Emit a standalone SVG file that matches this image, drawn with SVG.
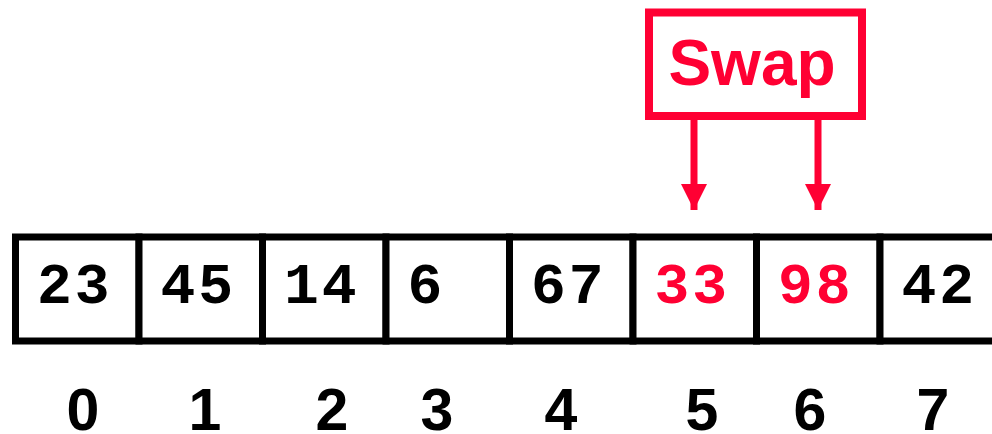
<svg xmlns="http://www.w3.org/2000/svg" width="992" height="434" viewBox="0 0 992 434">
<style>
.cell{fill:#fff;stroke:#000;stroke-width:7}
.val{font-family:"Liberation Mono","Courier New",monospace;font-weight:bold;font-size:58px;letter-spacing:3px;fill:#000}
.red{fill:#ff0033}
.idx{font-family:"Liberation Sans",Arial,sans-serif;font-weight:bold;font-size:59px;fill:#000;text-anchor:middle}
.swapbox{fill:#fff;stroke:#ff0033;stroke-width:8}
.swaptxt{font-family:"Liberation Sans",Arial,sans-serif;font-weight:bold;font-size:64px;fill:#ff0033;text-anchor:middle}
.conn{stroke:#ff0033;stroke-width:7;fill:none}
</style>
<defs>
<marker id="ah" markerUnits="userSpaceOnUse" markerWidth="26" markerHeight="26" refX="24" refY="12" orient="auto" viewBox="0 0 24 24">
<path d="M0,0 L24,12 L0,24 Z" fill="#ff0033"/>
</marker>
</defs>
<g id="array">
<g id="cell0"><rect class="cell" x="15.5" y="237" width="123.5" height="104"/><text class="val" x="37" y="303">23</text></g>
<g id="cell1"><rect class="cell" x="139" y="237" width="123.5" height="104"/><text class="val" x="160.5" y="303">45</text></g>
<g id="cell2"><rect class="cell" x="262.5" y="237" width="123.5" height="104"/><text class="val" x="284" y="303">14</text></g>
<g id="cell3"><rect class="cell" x="386" y="237" width="123.5" height="104"/><text class="val" x="407.5" y="303">6</text></g>
<g id="cell4"><rect class="cell" x="509.5" y="237" width="123.5" height="104"/><text class="val" x="531" y="303">67</text></g>
<g id="cell5"><rect class="cell" x="633" y="237" width="123.5" height="104"/><text class="val red" x="654.5" y="303">33</text></g>
<g id="cell6"><rect class="cell" x="756.5" y="237" width="123.5" height="104"/><text class="val red" x="778" y="303">98</text></g>
<g id="cell7"><rect class="cell" x="880" y="237" width="123.5" height="104"/><text class="val" x="901.5" y="303">42</text></g>
</g>
<g id="indices">
<text class="idx" x="83" y="430">0</text>
<text class="idx" x="205" y="430">1</text>
<text class="idx" x="332" y="430">2</text>
<text class="idx" x="437" y="430">3</text>
<text class="idx" x="561" y="430">4</text>
<text class="idx" x="702" y="430">5</text>
<text class="idx" x="810" y="430">6</text>
<text class="idx" x="933" y="430">7</text>
</g>
<g id="swap">
<rect class="swapbox" x="649" y="12.5" width="213" height="103.5"/>
<text class="swaptxt" x="752" y="85">Swap</text>
</g>
<g id="connectors">
<line class="conn" x1="694" y1="116" x2="694" y2="210" marker-end="url(#ah)"/>
<line class="conn" x1="818" y1="116" x2="818" y2="210" marker-end="url(#ah)"/>
</g>
</svg>
